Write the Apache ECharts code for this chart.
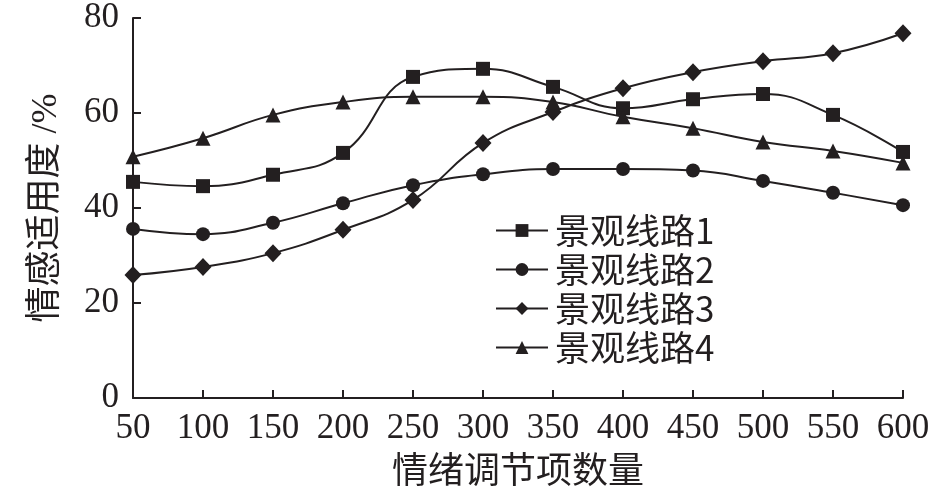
<!DOCTYPE html>
<html>
<head>
<meta charset="utf-8">
<script src="https://cdn.jsdelivr.net/npm/echarts@6/dist/echarts.min.js"></script>
<style>
  html, body { margin: 0; padding: 0; background: #fff; }
  #chart { width: 941px; height: 503px; }
</style>
</head>
<body>
<div id="chart"></div>
<script>
// 情绪调节项数量
const categories = ['50', '100', '150', '200', '250', '300', '350', '400', '450', '500', '550', '600'];
const route1 = [45.5, 44.6, 47.0, 51.6, 67.6, 69.3, 65.5, 61.0, 62.9, 64.0, 59.6, 51.8];
const route2 = [35.6, 34.5, 36.9, 41.0, 44.8, 47.1, 48.2, 48.2, 47.9, 45.7, 43.2, 40.6];
const route3 = [25.9, 27.6, 30.5, 35.4, 41.7, 53.7, 60.2, 65.2, 68.6, 70.9, 72.6, 76.8];
const route4 = [50.8, 54.7, 59.6, 62.3, 63.4, 63.4, 62.3, 59.2, 56.8, 53.9, 52.0, 49.5];
const yTicks = [0, 20, 40, 60, 80];

const ink = '#231f20';
const font = "'Liberation Serif', 'Noto Sans CJK SC', serif";
const cjkFont = "'Noto Sans CJK SC', 'Liberation Serif', sans-serif";

function line(name, data, symbol, size) {
  return {
    name,
    type: 'line',
    data,
    smooth: 0.45,
    symbol,
    symbolSize: size,
    lineStyle: { color: ink, width: 2 },
    itemStyle: { color: ink },
    z: 3,
  };
}

const chart = echarts.init(document.getElementById('chart'), null, { renderer: 'canvas' });
chart.setOption({
  animation: false,
  backgroundColor: '#fff',
  grid: { left: 133, right: 38, top: 18, bottom: 105, containLabel: false },
  legend: {
    orient: 'vertical',
    left: 490,
    top: 208,
    itemWidth: 52,
    itemHeight: 16,
    itemGap: 4,
    textStyle: { fontFamily: cjkFont, fontSize: 35, color: ink, padding: [0, 0, 0, 2] },
    data: ['景观线路1', '景观线路2', '景观线路3', '景观线路4'],
  },
  xAxis: {
    type: 'category',
    data: categories,
    boundaryGap: false,
    name: '情绪调节项数量',
    nameLocation: 'middle',
    nameGap: 52,
    nameTextStyle: { fontFamily: cjkFont, fontSize: 36, color: ink },
    axisLine: { lineStyle: { color: ink, width: 2 } },
    axisTick: { inside: true, length: 8, lineStyle: { color: ink, width: 2 }, alignWithLabel: true },
    axisLabel: { fontFamily: font, fontSize: 35, color: ink, margin: 13, interval: 0 },
    splitLine: { show: false },
  },
  yAxis: {
    type: 'value',
    min: yTicks[0],
    max: yTicks[yTicks.length - 1],
    interval: 20,
    name: '情感适用度 /%',
    nameLocation: 'middle',
    nameGap: 68,
    nameTextStyle: { fontFamily: font, fontSize: 36, color: ink },
    axisLine: { show: true, lineStyle: { color: ink, width: 2 } },
    axisTick: { show: true, inside: true, length: 8, lineStyle: { color: ink, width: 2 } },
    axisLabel: { fontFamily: font, fontSize: 35, color: ink, margin: 14 },
    splitLine: { show: false },
  },
  series: [
    line('景观线路1', route1, 'rect', 14),
    line('景观线路2', route2, 'circle', 14),
    line('景观线路3', route3, 'diamond', [17, 18]),
    line('景观线路4', route4, 'triangle', 15),
  ],
});
</script>
</body>
</html>
